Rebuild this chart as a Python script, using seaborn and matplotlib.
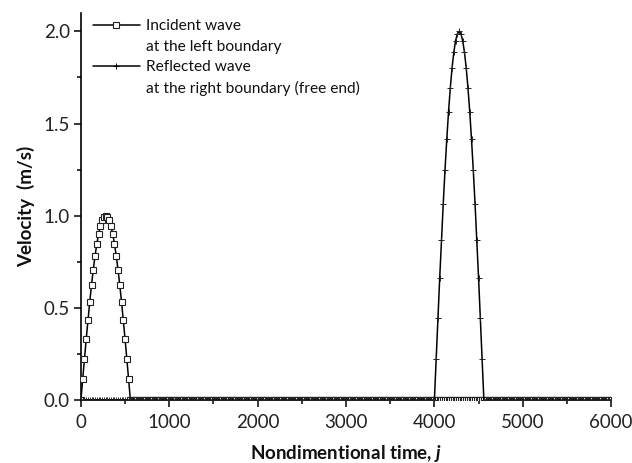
import numpy as np
import pandas as pd
import matplotlib
matplotlib.use("Agg")
import matplotlib.pyplot as plt
from matplotlib.lines import Line2D
from matplotlib.ticker import MultipleLocator
import seaborn as sns

# ---- data ----
time_step = 20          # sampling interval of nondimentional time j
time_max = 6000
incident_start = 0
incident_pulse = [0.0, 0.112, 0.223, 0.330, 0.434, 0.532, 0.623, 0.707, 0.782, 0.847,
                  0.901, 0.944, 0.975, 0.994, 1.000, 0.994, 0.975, 0.944, 0.901, 0.847,
                  0.782, 0.707, 0.623, 0.532, 0.434, 0.330, 0.223, 0.112, 0.0]
reflected_start = 4000
reflected_pulse = [0.0, 0.224, 0.445, 0.661, 0.868, 1.064, 1.247, 1.414, 1.564, 1.693,
                   1.802, 1.888, 1.950, 1.987, 2.000, 1.987, 1.950, 1.888, 1.802, 1.693,
                   1.564, 1.414, 1.247, 1.064, 0.868, 0.661, 0.445, 0.224, 0.0]
labels = ["Incident wave", "at the left boundary",
          "Reflected wave", "at the right boundary (free end)"]
x_ticks = [0, 1000, 2000, 3000, 4000, 5000, 6000]
y_ticks = [0.0, 0.5, 1.0, 1.5, 2.0]

j = np.arange(0, time_max + time_step, time_step)


def series(start, pulse):
    v = np.zeros(len(j))
    i0 = start // time_step
    v[i0:i0 + len(pulse)] = pulse
    return v


df_inc = pd.DataFrame({"j": j, "v": series(incident_start, incident_pulse)})
df_ref = pd.DataFrame({"j": j, "v": series(reflected_start, reflected_pulse)})

sns.set_theme(style="ticks")
plt.rcParams["font.family"] = ["Lato", "DejaVu Sans"]
plt.rcParams["mathtext.fontset"] = "custom"
plt.rcParams["mathtext.it"] = "Lato:italic:bold"
plt.rcParams["mathtext.rm"] = "Lato:bold"

fig = plt.figure(figsize=(6.32, 4.63), dpi=100)
ax = fig.add_axes([0.128, 0.136, 0.839, 0.836])

sns.lineplot(data=df_inc, x="j", y="v", ax=ax, color="black", lw=1.1,
             marker="s", markersize=3.8, markerfacecolor="white",
             markeredgecolor="#222222", markeredgewidth=0.8, zorder=3)
sns.lineplot(data=df_ref, x="j", y="v", ax=ax, color="black", lw=1.1,
             marker="+", markersize=4.5, markeredgecolor="#222222",
             markeredgewidth=0.7, zorder=4)

ax.set_xlim(0, 6000)
ax.set_ylim(0, 2.1)
ax.set_xticks(x_ticks)
ax.set_yticks(y_ticks)
ax.set_yticklabels([f"{t:.1f}" for t in y_ticks])
ax.xaxis.set_minor_locator(MultipleLocator(500))
ax.yaxis.set_minor_locator(MultipleLocator(0.25))
ax.tick_params(axis="both", which="major", direction="out", length=5, width=1.1,
               labelsize=13.5, color="black", labelcolor="#222222")
ax.tick_params(axis="x", which="major", pad=5)
ax.tick_params(axis="y", which="major", pad=3)
ax.tick_params(axis="both", which="minor", direction="out", length=3, width=1.1,
               color="black")
for s in ["top", "right"]:
    ax.spines[s].set_visible(False)
for s in ["left", "bottom"]:
    ax.spines[s].set_linewidth(1.2)
    ax.spines[s].set_color("black")

ax.set_xlabel(r"Nondimentional time, $j$", fontsize=13.5, fontweight="bold",
              labelpad=9, color="#111111")
ax.set_ylabel("Velocity  (m/s)", fontsize=13.5, fontweight="bold", labelpad=6,
              color="#111111")

handles = [
    Line2D([], [], color="black", lw=1.1, marker="s", markersize=3.8,
           markerfacecolor="white", markeredgecolor="#222222", markeredgewidth=0.8),
    Line2D([], [], color="none"),
    Line2D([], [], color="black", lw=1.1, marker="+", markersize=4.5,
           markeredgewidth=0.7),
    Line2D([], [], color="none"),
]
ax.legend(handles, labels, loc="upper left", bbox_to_anchor=(0.005, 1.008),
          frameon=False, fontsize=11.2, handlelength=3.0, handletextpad=0.4,
          labelspacing=0.42, borderaxespad=0.2, labelcolor="#111111")

fig.savefig("out.png", dpi=100)
